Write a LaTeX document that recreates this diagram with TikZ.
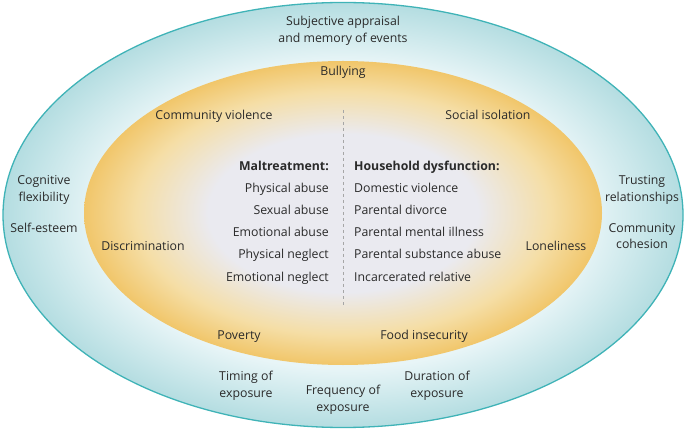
\documentclass[tikz,border=0pt]{standalone}
\usepackage{fontspec}
\setmainfont{Open Sans}
\usetikzlibrary{positioning}

\definecolor{ringdark}{HTML}{B4DDE1}
\definecolor{ringlight}{HTML}{E8F5F7}
\definecolor{ringline}{HTML}{3FB3B7}
\definecolor{coreedge}{HTML}{F1C66A}
\definecolor{coremid}{HTML}{F5DEA6}
\definecolor{corecentre}{HTML}{EAEAF0}
\definecolor{txtgray}{HTML}{2A2A2A}

\pgfdeclareradialshading{outerring}{\pgfpoint{0bp}{0bp}}{%
  color(0bp)=(ringlight); color(18bp)=(ringlight);
  color(25bp)=(ringdark); color(50bp)=(ringdark)}
\pgfdeclareradialshading{innercore}{\pgfpoint{0bp}{0bp}}{%
  color(0bp)=(corecentre); color(13bp)=(corecentre);
  color(20bp)=(coremid); color(25bp)=(coreedge); color(50bp)=(coreedge)}

\tikzset{
  lbl/.style={font=\fontsize{12.3}{16.5}\selectfont, text=txtgray,
    align=center, inner sep=0pt},
  row/.style={lbl, text height=9pt, text depth=3pt},
}

\begin{document}
\begin{tikzpicture}[x=1pt, y=-1pt]

	\useasboundingbox (0,0) rectangle (685,430);

	\def\cx{343}
	\def\cy{215}

	\coordinate (C) at (\cx,\cy);

	% outer ring
	\path[shading=outerring, draw=ringline, line width=1.3pt]
	(C) ellipse [x radius=340, y radius=212.5];

	% inner core
	\path[shading=innercore] (\cx,213) ellipse [x radius=259, y radius=152];

	% dividing line
	\coordinate (dtop) at (\cx,110);
	\coordinate (dbot) at (\cx,306);
	\draw[dashed, gray!70, line width=0.5pt] (dtop) -- (dbot);

	% outer labels
	\node[lbl] (subj) at (\cx,31) {Subjective appraisal\\and memory of events};
	\node[lbl] (cogn) at (44,190) {Cognitive\\flexibility};
	\node[row] (self) at (44,230) {Self-esteem};
	\node[lbl] (trust) at (642,190) {Trusting\\relationships};
	\node[lbl] (cohes) at (642,236) {Community\\cohesion};
	\node[lbl] (timing) at (246,386) {Timing of\\exposure};
	\node[lbl] (freq) at (\cx,400) {Frequency of\\exposure};
	\node[lbl] (durat) at (437,386) {Duration of\\exposure};

	% inner labels
	\node[row] (bully) at (\cx,73) {Bullying};
	\node[row] (commv) at (214,117) {Community violence};
	\node[row] (socis) at (488,117) {Social isolation};
	\node[row] (discr) at (143,248) {Discrimination};
	\node[row] (lonel) at (556,248) {Loneliness};
	\node[row] (pover) at (239,336) {Poverty};
	\node[row] (foodi) at (424,336) {Food insecurity};

	% the two lists
	\node[row, anchor=east, font=\fontsize{12.3}{16.5}\selectfont\bfseries]
	(malt) at (329,168) {Maltreatment:};
	\node[row, anchor=west, font=\fontsize{12.3}{16.5}\selectfont\bfseries]
	(house) at (354,168) {Household dysfunction:};

	\foreach \txt [count=\i] in {Physical abuse, Sexual abuse,
		Emotional abuse, Physical neglect, Emotional neglect}
	\node[row, anchor=east] (malt\i) at (329,{168+22*\i}) {\txt};

	\foreach \txt [count=\i] in {Domestic violence, Parental divorce,
		Parental mental illness, Parental substance abuse,
		Incarcerated relative}
	\node[row, anchor=west] (house\i) at (354,{168+22*\i}) {\txt};

\end{tikzpicture}
\end{document}
